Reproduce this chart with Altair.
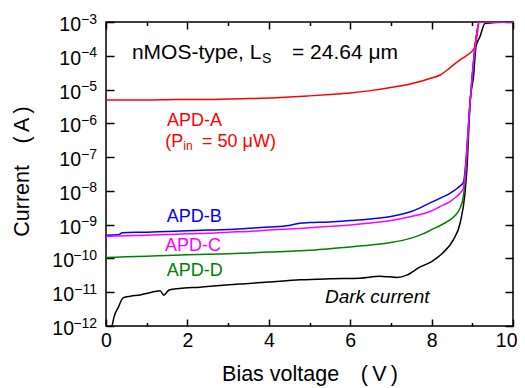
import altair as alt
import pandas as pd

# ---------------- data ----------------
V_dark = [0.15, 0.2, 0.3, 0.42, 0.6, 0.84, 1.05, 1.2, 1.33, 1.42, 1.55, 1.8, 2.31, 2.8, 3.29,
          4.0, 4.77, 5.5, 6.24, 6.73, 6.95, 7.15, 7.39, 7.71, 8.0, 8.28, 8.53, 8.70, 8.82, 8.87,
          8.95, 9.03, 9.09, 9.19, 9.31, 10.0]
I_dark = [1.0e-12, 1.9e-12, 3.5e-12, 6.8e-12, 7.6e-12, 8.3e-12, 9.5e-12, 1.05e-11, 1.1e-11, 8.2e-12,
          1.17e-11, 1.29e-11, 1.41e-11, 1.58e-11, 1.74e-11, 2.0e-11, 2.34e-11, 2.5e-11, 2.6e-11,
          2.95e-11, 2.85e-11, 2.75e-11, 3.2e-11, 5.5e-11, 8.1e-11, 1.48e-10, 3.5e-10, 1.1e-9, 8.5e-9,
          5.0e-8, 4.9e-6, 2.4e-5, 1.86e-4, 3.7e-4, 9.1e-4, 1.0e-3]

V_D = [0, 0.5, 1, 1.5, 2, 2.5, 3, 3.5, 4, 4.5, 5, 5.5, 6, 6.5, 7, 7.5, 7.77, 8.0, 8.2, 8.45,
       8.6, 8.7, 8.78, 8.82, 8.95, 9.05, 9.17, 10]
I_D = [1.07e-10, 1.12e-10, 1.17e-10, 1.23e-10, 1.29e-10, 1.32e-10, 1.38e-10, 1.45e-10, 1.55e-10,
       1.62e-10, 1.74e-10, 1.95e-10, 2.19e-10, 2.5e-10, 2.95e-10, 4.0e-10, 5.25e-10, 7.1e-10,
       9.3e-10, 1.38e-9, 2.0e-9, 3.1e-9, 6.8e-9, 1.74e-8, 4.9e-6, 1.17e-4, 1.0e-3, 1.0e-3]

V_B = [0, 0.3, 0.4, 1, 1.5, 2, 2.5, 3, 3.5, 4, 4.5, 4.8, 5, 5.5, 6, 6.5, 7, 7.5, 7.96, 8.2,
       8.45, 8.6, 8.7, 8.78, 8.95, 9.05, 9.17, 10]
I_B = [4.9e-10, 5.0e-10, 5.75e-10, 6.0e-10, 6.3e-10, 6.6e-10, 6.9e-10, 7.2e-10, 7.8e-10, 8.5e-10,
       9.5e-10, 1.12e-9, 1.15e-9, 1.2e-9, 1.32e-9, 1.48e-9, 1.74e-9, 2.45e-9, 4.4e-9, 6.0e-9,
       8.5e-9, 1.12e-8, 1.41e-8, 1.78e-8, 4.9e-6, 1.17e-4, 1.0e-3, 1.0e-3]

V_C = [0, 0.5, 1, 1.5, 2, 2.5, 3, 3.5, 4, 4.5, 5, 5.5, 6, 6.5, 7, 7.5, 7.96, 8.2, 8.45, 8.6,
       8.7, 8.78, 8.95, 9.05, 9.17, 10]
I_C = [4.5e-10, 4.7e-10, 4.9e-10, 5.1e-10, 5.4e-10, 5.6e-10, 6.0e-10, 6.3e-10, 6.9e-10, 7.4e-10,
       8.1e-10, 8.9e-10, 9.8e-10, 1.12e-9, 1.32e-9, 1.74e-9, 2.45e-9, 3.4e-9, 4.8e-9, 6.6e-9,
       8.5e-9, 1.2e-8, 4.9e-6, 1.17e-4, 1.0e-3, 1.0e-3]

V_A = [0, 0.5, 1, 1.5, 2, 2.5, 3, 3.5, 4, 4.5, 5, 5.5, 6, 6.5, 7, 7.5, 8.0, 8.21, 8.45, 8.7,
       8.85, 8.98, 9.05, 9.11, 9.17, 10]
I_A = [4.9e-6, 4.9e-6, 4.9e-6, 5.0e-6, 5.1e-6, 5.1e-6, 5.25e-6, 5.4e-6, 5.6e-6, 6.0e-6, 6.5e-6,
       7.1e-6, 7.9e-6, 9.3e-6, 1.15e-5, 1.48e-5, 2.2e-5, 2.7e-5, 4.4e-5, 7.6e-5, 1.0e-4, 1.32e-4,
       1.7e-4, 3.5e-4, 1.0e-3, 1.0e-3]

series_names = ["Dark", "APD-D", "APD-B", "APD-A", "APD-C"]
series_colors = ["#000000", "#008000", "#0000ff", "#ff0000", "#ff00ff"]
series_V = [V_dark, V_D, V_B, V_A, V_C]
series_I = [I_dark, I_D, I_B, I_A, I_C]

x_major = [0, 2, 4, 6, 8, 10]
x_all = [0, 1, 2, 3, 4, 5, 6, 7, 8, 9, 10]
decades = [1e-3, 1e-4, 1e-5, 1e-6, 1e-7, 1e-8, 1e-9, 1e-10, 1e-11, 1e-12]
exponents = ["\u22123", "\u22124", "\u22125", "\u22126", "\u22127", "\u22128", "\u22129",
             "\u221210", "\u221211", "\u221212"]

# annotations (left-aligned / right-aligned)
annL_text = ["S", "= 24.64 \u03bcm", "APD-A", "in", "= 50 \u03bcW)", "APD-B", "APD-C", "APD-D"]
annL_V = [3.83, 4.57, 1.50, 1.90, 2.36, 1.49, 1.45, 1.49]
annL_I = [6.2e-5, 8.0e-5, 8.3e-7, 1.6e-7, 2.04e-7, 1.236e-9, 1.71e-10, 3.05e-11]
annL_size = [14, 21, 18, 12, 18, 18, 18, 18]
annL_color = ["black", "black", "red", "red", "red", "blue", "#ff00ff", "green"]

annR_text = ["nMOS-type, L", "(P"]
annR_V = [3.82, 1.90]
annR_I = [8.0e-5, 2.04e-7]
annR_size = [21, 18]
annR_color = ["black", "red"]

dark_text = ["Dark current"]
dark_V = [5.38]
dark_I = [4.8e-12]

FONT = "Liberation Sans"
W, H = 407, 304

xs = alt.Scale(domain=[0, 10], nice=False, zero=False)
ys = alt.Scale(type="log", domain=[1e-12, 1e-3], nice=False)

# ---------------- line layers ----------------
layers = []
for k, (name, col, vv, ii) in enumerate(zip(series_names, series_colors, series_V, series_I)):
    df = pd.DataFrame({"V": vv, "I": ii, "idx": list(range(len(vv)))})
    if k == 0:
        xax = alt.Axis(orient="bottom", values=x_major, format="d", labelFontSize=19.5,
                       labelPadding=5, labelFlush=False,
                       labelAlign={"condition": {"test": "datum.value == 10", "value": "right"},
                                   "value": "center"},
                       labelOffset={"condition": {"test": "datum.value == 10", "value": 4},
                                    "value": 0},
                       ticks=False, tickSize=0, domain=False, grid=False,
                       title="Bias voltage\u2003(\u2009V\u2009)", titleFontSize=21.5, titleY=54,
                       titleBaseline="alphabetic", labelFont=FONT, titleFont=FONT)
        yax = alt.Axis(orient="left", labels=False, ticks=False, tickSize=0, domain=False,
                       grid=False, title="Current\u2003(\u2009A\u2009)", titleFontSize=21.5,
                       titleX=-78, titleY=149, titleAngle=-90, titleBaseline="alphabetic",
                       titleAlign="center", titleFont=FONT)
    else:
        xax = None
        yax = None
    layers.append(
        alt.Chart(df).mark_line(color=col, strokeWidth=1.5, clip=True, interpolate="monotone")
        .encode(x=alt.X("V:Q", scale=xs, axis=xax),
                y=alt.Y("I:Q", scale=ys, axis=yax),
                order="idx:Q")
    )

tick_cond = {"condition": {"test": "datum.value % 2 != 0", "value": 3.5}, "value": 7}

# left-aligned annotations; carries inward ticks at bottom (x) and left (y)
dfL = pd.DataFrame({"V": annL_V, "I": annL_I, "t": annL_text, "s": annL_size, "c": annL_color})
layers.append(
    alt.Chart(dfL).mark_text(align="left", baseline="alphabetic", font=FONT)
    .encode(
        x=alt.X("V:Q", scale=xs, axis=alt.Axis(orient="top", offset=-H, values=x_all,
                                               tickSize=tick_cond, labels=False, domain=False,
                                               grid=False, title=None, tickWidth=1.5)),
        y=alt.Y("I:Q", scale=ys, axis=alt.Axis(orient="right", offset=-W, values=decades,
                                               tickSize=8, labels=False, domain=False,
                                               grid=False, title=None, tickWidth=1.5)),
        text="t:N",
        size=alt.Size("s:Q", scale=None, legend=None),
        color=alt.Color("c:N", scale=None, legend=None),
    )
)

# right-aligned annotations; carries inward ticks at top (x) and right (y)
dfR = pd.DataFrame({"V": annR_V, "I": annR_I, "t": annR_text, "s": annR_size, "c": annR_color})
layers.append(
    alt.Chart(dfR).mark_text(align="right", baseline="alphabetic", font=FONT)
    .encode(
        x=alt.X("V:Q", scale=xs, axis=alt.Axis(orient="bottom", offset=-H, values=x_all,
                                               tickSize=tick_cond, labels=False, domain=False,
                                               grid=False, title=None, tickWidth=1.5)),
        y=alt.Y("I:Q", scale=ys, axis=alt.Axis(orient="left", offset=-W, values=decades,
                                               tickSize=8, labels=False, domain=False,
                                               grid=False, title=None, tickWidth=1.5)),
        text="t:N",
        size=alt.Size("s:Q", scale=None, legend=None),
        color=alt.Color("c:N", scale=None, legend=None),
    )
)

dfDark = pd.DataFrame({"V": dark_V, "I": dark_I, "t": dark_text})
layers.append(
    alt.Chart(dfDark).mark_text(align="left", baseline="alphabetic", font=FONT, fontSize=19,
                                fontStyle="italic", color="black")
    .encode(x=alt.X("V:Q", scale=xs, axis=None), y=alt.Y("I:Q", scale=ys, axis=None), text="t:N")
)

# y tick labels: "10" with superscript exponent
dfY = pd.DataFrame({"val": decades, "e": exponents})
layers.append(
    alt.Chart(dfY).transform_filter("datum.val > 5e-10")
    .mark_text(align="right", baseline="alphabetic", font=FONT, fontSize=19.5, dx=-25, dy=9,
               color="black")
    .encode(x=alt.value(0), y=alt.Y("val:Q", scale=ys, axis=None), text=alt.value("10"))
)
layers.append(
    alt.Chart(dfY).transform_filter("datum.val < 5e-10")
    .mark_text(align="right", baseline="alphabetic", font=FONT, fontSize=19.5, dx=-32, dy=9,
               color="black")
    .encode(x=alt.value(0), y=alt.Y("val:Q", scale=ys, axis=None), text=alt.value("10"))
)
layers.append(
    alt.Chart(dfY)
    .mark_text(align="right", baseline="alphabetic", font=FONT, fontSize=14, dx=-9, dy=1.5,
               color="black")
    .encode(x=alt.value(0), y=alt.Y("val:Q", scale=ys, axis=None), text="e:N")
)

chart = (
    alt.layer(*layers)
    .resolve_axis(x="independent", y="independent")
    .properties(width=W, height=H, autosize=alt.AutoSizeParams(type="none"),
                padding={"left": 98, "top": 14, "right": 4, "bottom": 62})
    .configure_axis(labelColor="black", titleColor="black", tickColor="black",
                    titleFontWeight="normal")
    .configure_view(stroke="black", strokeWidth=1.5)
)

chart.save("out.html", embed_options={"renderer": "svg", "actions": False})
